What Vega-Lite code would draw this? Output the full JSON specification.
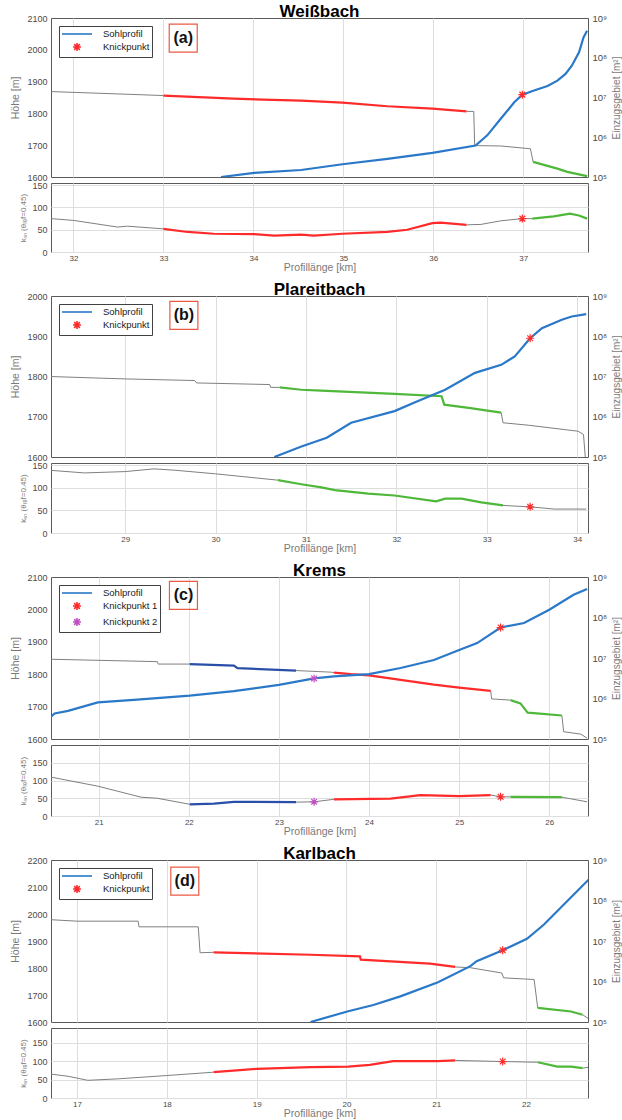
{
"$schema": "https://vega.github.io/schema/vega-lite/v6.json",
"padding": {"left": 10, "top": 2, "right": 0, "bottom": 0},
"spacing": 7,
"resolve": {"scale": {"color": "independent", "shape": "independent"}, "legend": {"color": "independent", "shape": "independent"}},
"config": {
 "font": "Liberation Sans",
 "view": {"stroke": "#5a5a5a", "strokeWidth": 1},
 "axis": {"labelFontSize": 9, "labelColor": "#4a4a4a", "titleFontWeight": "normal", "titleColor": "#7a7a7a", "titleFontSize": 10.5, "gridColor": "#dedede", "gridOpacity": 1, "domain": false, "ticks": false, "labelPadding": 4, "labelFont": "Liberation Sans", "titleFont": "Liberation Sans"},
 "title": {"fontSize": 17, "fontWeight": "bold", "color": "#000000", "font": "Liberation Sans", "offset": -8},
 "legend": {"orient": "top-left", "offset": 8, "strokeColor": "#404040", "fillColor": "#ffffff", "padding": 2, "symbolSize": 100, "symbolStrokeWidth": 1.6, "symbolFillColor": "transparent", "labelFontSize": 9.5, "labelColor": "#1a1a1a", "labelOffset": 30, "rowPadding": 0, "labelFont": "Liberation Sans"}
},
"datasets": {
 "aZ": [{"x":33.64,"y":1600},{"x":34.01,"y":1613},{"x":34.53,"y":1622},{"x":34.99,"y":1640},{"x":35.49,"y":1657},{"x":35.99,"y":1676},{"x":36.47,"y":1699},{"x":36.6,"y":1731},{"x":36.75,"y":1783},{"x":36.9,"y":1835},{"x":36.99,"y":1859},{"x":37.12,"y":1872},{"x":37.27,"y":1886},{"x":37.38,"y":1903},{"x":37.47,"y":1924},{"x":37.54,"y":1950},{"x":37.62,"y":1992},{"x":37.67,"y":2039},{"x":37.71,"y":2060}],
 "aA": [{"x":31.75,"y":14100000,"g":"1","c":"g"},{"x":33.0,"y":11200000,"g":"1","c":"g"},
        {"x":33.0,"y":11200000,"g":"2","c":"r"},{"x":33.78,"y":9330000,"g":"2","c":"r"},{"x":34.53,"y":8320000,"g":"2","c":"r"},{"x":34.99,"y":7410000,"g":"2","c":"r"},{"x":35.49,"y":6030000,"g":"2","c":"r"},{"x":35.99,"y":5250000,"g":"2","c":"r"},{"x":36.37,"y":4470000,"g":"2","c":"r"},
        {"x":36.37,"y":4470000,"g":"3","c":"g"},{"x":36.45,"y":4470000,"g":"3","c":"g"},{"x":36.46,"y":617000,"g":"3","c":"g"},{"x":36.75,"y":603000,"g":"3","c":"g"},{"x":37.08,"y":513000,"g":"3","c":"g"},{"x":37.11,"y":240000,"g":"3","c":"g"},
        {"x":37.11,"y":240000,"g":"4","c":"gr"},{"x":37.38,"y":162000,"g":"4","c":"gr"},{"x":37.49,"y":135000,"g":"4","c":"gr"},{"x":37.67,"y":110000,"g":"4","c":"gr"},{"x":37.71,"y":105000,"g":"4","c":"gr"}],
 "aK": [{"x":31.75,"y":75,"g":"1","c":"g"},{"x":32.0,"y":71,"g":"1","c":"g"},{"x":32.49,"y":56,"g":"1","c":"g"},{"x":32.6,"y":58,"g":"1","c":"g"},{"x":33.0,"y":52,"g":"1","c":"g"},
        {"x":33.0,"y":52,"g":"2","c":"r"},{"x":33.27,"y":45,"g":"2","c":"r"},{"x":33.56,"y":41,"g":"2","c":"r"},{"x":34.01,"y":40,"g":"2","c":"r"},{"x":34.23,"y":37,"g":"2","c":"r"},{"x":34.53,"y":39,"g":"2","c":"r"},{"x":34.67,"y":37,"g":"2","c":"r"},{"x":34.99,"y":41,"g":"2","c":"r"},{"x":35.49,"y":45,"g":"2","c":"r"},{"x":35.71,"y":50,"g":"2","c":"r"},{"x":35.99,"y":65,"g":"2","c":"r"},{"x":36.08,"y":66,"g":"2","c":"r"},{"x":36.37,"y":61,"g":"2","c":"r"},
        {"x":36.37,"y":61,"g":"3","c":"g"},{"x":36.53,"y":62,"g":"3","c":"g"},{"x":36.75,"y":70,"g":"3","c":"g"},{"x":36.99,"y":75,"g":"3","c":"g"},{"x":37.1,"y":75,"g":"3","c":"g"},
        {"x":37.1,"y":75,"g":"4","c":"gr"},{"x":37.34,"y":80,"g":"4","c":"gr"},{"x":37.52,"y":86,"g":"4","c":"gr"},{"x":37.62,"y":82,"g":"4","c":"gr"},{"x":37.71,"y":75,"g":"4","c":"gr"}],
 "aP": [{"x":36.99,"y":1859,"c":"r","leg":"Knickpunkt"}],
 "aQ": [{"x":36.99,"y":75,"c":"r"}],
 "bZ": [{"x":30.65,"y":1600},{"x":30.95,"y":1626},{"x":31.23,"y":1648},{"x":31.5,"y":1685},{"x":31.98,"y":1714},{"x":32.24,"y":1739},{"x":32.54,"y":1767},{"x":32.87,"y":1809},{"x":33.16,"y":1829},{"x":33.31,"y":1850},{"x":33.48,"y":1895},{"x":33.61,"y":1920},{"x":33.83,"y":1941},{"x":33.94,"y":1949},{"x":34.1,"y":1955}],
 "bA": [{"x":28.16,"y":10000000,"g":"1","c":"g"},{"x":29.0,"y":8710000,"g":"1","c":"g"},{"x":29.77,"y":7940000,"g":"1","c":"g"},{"x":29.79,"y":6920000,"g":"1","c":"g"},{"x":30.6,"y":6310000,"g":"1","c":"g"},{"x":30.61,"y":5370000,"g":"1","c":"g"},{"x":30.71,"y":5370000,"g":"1","c":"g"},
        {"x":30.71,"y":5370000,"g":"2","c":"gr"},{"x":30.95,"y":4680000,"g":"2","c":"gr"},{"x":31.17,"y":4470000,"g":"2","c":"gr"},{"x":31.98,"y":3720000,"g":"2","c":"gr"},{"x":32.5,"y":3240000,"g":"2","c":"gr"},{"x":32.53,"y":2000000,"g":"2","c":"gr"},{"x":32.8,"y":1660000,"g":"2","c":"gr"},{"x":33.16,"y":1260000,"g":"2","c":"gr"},
        {"x":33.16,"y":1260000,"g":"3","c":"g"},{"x":33.18,"y":708000,"g":"3","c":"g"},{"x":33.46,"y":617000,"g":"3","c":"g"},{"x":34.01,"y":437000,"g":"3","c":"g"},{"x":34.07,"y":363000,"g":"3","c":"g"},{"x":34.09,"y":100000,"g":"3","c":"g"}],
 "bK": [{"x":28.16,"y":139,"g":"1","c":"g"},{"x":28.55,"y":133,"g":"1","c":"g"},{"x":29.0,"y":136,"g":"1","c":"g"},{"x":29.32,"y":142,"g":"1","c":"g"},{"x":29.55,"y":139,"g":"1","c":"g"},{"x":30.0,"y":131,"g":"1","c":"g"},{"x":30.69,"y":117,"g":"1","c":"g"},
        {"x":30.69,"y":117,"g":"2","c":"gr"},{"x":30.95,"y":108,"g":"2","c":"gr"},{"x":31.17,"y":101,"g":"2","c":"gr"},{"x":31.32,"y":95,"g":"2","c":"gr"},{"x":31.69,"y":87,"g":"2","c":"gr"},{"x":31.98,"y":83,"g":"2","c":"gr"},{"x":32.44,"y":70,"g":"2","c":"gr"},{"x":32.54,"y":76,"g":"2","c":"gr"},{"x":32.72,"y":76,"g":"2","c":"gr"},{"x":32.94,"y":68,"g":"2","c":"gr"},{"x":33.18,"y":61,"g":"2","c":"gr"},
        {"x":33.18,"y":61,"g":"3","c":"g"},{"x":33.47,"y":58,"g":"3","c":"g"},{"x":33.75,"y":53,"g":"3","c":"g"},{"x":34.1,"y":53,"g":"3","c":"g"}],
 "bP": [{"x":33.48,"y":1895,"c":"r","leg":"Knickpunkt"}],
 "bQ": [{"x":33.48,"y":58,"c":"r"}],
 "cZ": [{"x":20.46,"y":1666},{"x":20.51,"y":1679},{"x":20.66,"y":1687},{"x":20.99,"y":1713},{"x":21.39,"y":1721},{"x":22.01,"y":1734},{"x":22.5,"y":1748},{"x":23.0,"y":1767},{"x":23.39,"y":1787},{"x":23.61,"y":1793},{"x":24.0,"y":1800},{"x":24.35,"y":1819},{"x":24.72,"y":1844},{"x":25.0,"y":1875},{"x":25.2,"y":1896},{"x":25.46,"y":1944},{"x":25.72,"y":1958},{"x":26.0,"y":1999},{"x":26.27,"y":2045},{"x":26.42,"y":2063}],
 "cA": [{"x":20.46,"y":9330000,"g":"1","c":"g"},{"x":21.65,"y":8130000,"g":"1","c":"g"},{"x":21.66,"y":7080000,"g":"1","c":"g"},{"x":22.01,"y":7080000,"g":"1","c":"g"},
        {"x":22.01,"y":7080000,"g":"2","c":"nb"},{"x":22.5,"y":6460000,"g":"2","c":"nb"},{"x":22.54,"y":5620000,"g":"2","c":"nb"},{"x":23.19,"y":4900000,"g":"2","c":"nb"},
        {"x":23.19,"y":4900000,"g":"3","c":"g"},{"x":23.58,"y":4470000,"g":"3","c":"g"},{"x":23.61,"y":4370000,"g":"3","c":"g"},
        {"x":23.61,"y":4370000,"g":"4","c":"r"},{"x":23.8,"y":3980000,"g":"4","c":"r"},{"x":24.0,"y":3720000,"g":"4","c":"r"},{"x":24.35,"y":2880000,"g":"4","c":"r"},{"x":24.72,"y":2190000,"g":"4","c":"r"},{"x":25.0,"y":1860000,"g":"4","c":"r"},{"x":25.35,"y":1550000,"g":"4","c":"r"},
        {"x":25.35,"y":1550000,"g":"5","c":"g"},{"x":25.36,"y":977000,"g":"5","c":"g"},{"x":25.57,"y":912000,"g":"5","c":"g"},
        {"x":25.57,"y":912000,"g":"6","c":"gr"},{"x":25.68,"y":759000,"g":"6","c":"gr"},{"x":25.76,"y":447000,"g":"6","c":"gr"},{"x":25.83,"y":437000,"g":"6","c":"gr"},{"x":26.14,"y":380000,"g":"6","c":"gr"},
        {"x":26.14,"y":380000,"g":"7","c":"g"},{"x":26.16,"y":151000,"g":"7","c":"g"},{"x":26.35,"y":132000,"g":"7","c":"g"},{"x":26.42,"y":105000,"g":"7","c":"g"}],
 "cK": [{"x":20.46,"y":110,"g":"1","c":"g"},{"x":20.99,"y":84,"g":"1","c":"g"},{"x":21.47,"y":53,"g":"1","c":"g"},{"x":21.65,"y":50,"g":"1","c":"g"},{"x":22.01,"y":33,"g":"1","c":"g"},
        {"x":22.01,"y":33,"g":"2","c":"nb"},{"x":22.28,"y":35,"g":"2","c":"nb"},{"x":22.5,"y":40,"g":"2","c":"nb"},{"x":23.19,"y":39,"g":"2","c":"nb"},
        {"x":23.19,"y":39,"g":"3","c":"g"},{"x":23.39,"y":40,"g":"3","c":"g"},{"x":23.61,"y":47,"g":"3","c":"g"},
        {"x":23.61,"y":47,"g":"4","c":"r"},{"x":24.24,"y":49,"g":"4","c":"r"},{"x":24.57,"y":59,"g":"4","c":"r"},{"x":25.0,"y":56,"g":"4","c":"r"},{"x":25.35,"y":59,"g":"4","c":"r"},
        {"x":25.35,"y":59,"g":"5","c":"g"},{"x":25.46,"y":54,"g":"5","c":"g"},{"x":25.57,"y":54,"g":"5","c":"g"},
        {"x":25.57,"y":54,"g":"6","c":"gr"},{"x":26.14,"y":53,"g":"6","c":"gr"},
        {"x":26.14,"y":53,"g":"7","c":"g"},{"x":26.42,"y":40,"g":"7","c":"g"}],
 "cP": [{"x":23.39,"y":1787,"c":"m","leg":"Knickpunkt 2"},{"x":25.46,"y":1944,"c":"r","leg":"Knickpunkt 1"}],
 "cQ": [{"x":23.39,"y":40,"c":"m"},{"x":25.46,"y":54,"c":"r"}],
 "dZ": [{"x":19.6,"y":1600},{"x":20.02,"y":1640},{"x":20.3,"y":1663},{"x":20.6,"y":1695},{"x":21.02,"y":1747},{"x":21.38,"y":1807},{"x":21.45,"y":1825},{"x":21.74,"y":1866},{"x":22.01,"y":1908},{"x":22.2,"y":1961},{"x":22.46,"y":2048},{"x":22.72,"y":2135}],
 "dA": [{"x":16.67,"y":33900000,"g":"1","c":"g"},{"x":17.0,"y":30900000,"g":"1","c":"g"},{"x":17.68,"y":30900000,"g":"1","c":"g"},{"x":17.69,"y":22400000,"g":"1","c":"g"},{"x":18.35,"y":22400000,"g":"1","c":"g"},{"x":18.37,"y":5130000,"g":"1","c":"g"},{"x":18.52,"y":5250000,"g":"1","c":"g"},
        {"x":18.52,"y":5250000,"g":"2","c":"r"},{"x":19.6,"y":4570000,"g":"2","c":"r"},{"x":20.15,"y":4170000,"g":"2","c":"r"},{"x":20.16,"y":3470000,"g":"2","c":"r"},{"x":20.93,"y":2750000,"g":"2","c":"r"},{"x":21.21,"y":2290000,"g":"2","c":"r"},
        {"x":21.21,"y":2290000,"g":"3","c":"g"},{"x":21.38,"y":2190000,"g":"3","c":"g"},{"x":21.73,"y":1620000,"g":"3","c":"g"},{"x":21.75,"y":1230000,"g":"3","c":"g"},{"x":22.09,"y":1120000,"g":"3","c":"g"},{"x":22.13,"y":224000,"g":"3","c":"g"},
        {"x":22.13,"y":224000,"g":"4","c":"gr"},{"x":22.5,"y":182000,"g":"4","c":"gr"},{"x":22.63,"y":151000,"g":"4","c":"gr"},
        {"x":22.63,"y":151000,"g":"5","c":"g"},{"x":22.71,"y":115000,"g":"5","c":"g"}],
 "dK": [{"x":16.67,"y":66,"g":"1","c":"g"},{"x":16.9,"y":59,"g":"1","c":"g"},{"x":17.12,"y":48,"g":"1","c":"g"},{"x":17.46,"y":52,"g":"1","c":"g"},{"x":18.0,"y":61,"g":"1","c":"g"},{"x":18.52,"y":70,"g":"1","c":"g"},
        {"x":18.52,"y":70,"g":"2","c":"r"},{"x":19.0,"y":79,"g":"2","c":"r"},{"x":19.6,"y":84,"g":"2","c":"r"},{"x":20.02,"y":85,"g":"2","c":"r"},{"x":20.26,"y":90,"g":"2","c":"r"},{"x":20.52,"y":100,"g":"2","c":"r"},{"x":21.02,"y":100,"g":"2","c":"r"},{"x":21.21,"y":102,"g":"2","c":"r"},
        {"x":21.21,"y":102,"g":"3","c":"g"},{"x":21.74,"y":99,"g":"3","c":"g"},{"x":22.13,"y":97,"g":"3","c":"g"},
        {"x":22.13,"y":97,"g":"4","c":"gr"},{"x":22.35,"y":85,"g":"4","c":"gr"},{"x":22.5,"y":85,"g":"4","c":"gr"},{"x":22.63,"y":81,"g":"4","c":"gr"},
        {"x":22.63,"y":81,"g":"5","c":"g"},{"x":22.71,"y":84,"g":"5","c":"g"}],
 "dP": [{"x":21.74,"y":1866,"c":"r","leg":"Knickpunkt"}],
 "dQ": [{"x":21.74,"y":99,"c":"r"}]
},
"vconcat": [
 {"spacing": -4, "resolve": {"scale": {"color": "independent", "shape": "independent"}, "legend": {"color": "independent", "shape": "independent"}},
  "vconcat": [
  {"title": {"text": "Weißbach"}, "width": 537, "height": 159,
   "encoding": {"x": {"field": "x", "type": "quantitative", "scale": {"domain": [31.75, 37.72], "nice": false, "zero": false}, "axis": {"values": [32,33,34,35,36,37], "labels": false, "title": null}}},
   "layer": [
    {"data": {"name": "aA"},
     "encoding": {"y": {"field": "y", "type": "quantitative", "scale": {"type": "log", "domain": [100000, 1000000000], "nice": false}, "axis": {"orient": "right", "values": [100000,1000000,10000000,100000000,1000000000], "labelExpr": "datum.value < 300000 ? '10⁵' : datum.value < 3000000 ? '10⁶' : datum.value < 30000000 ? '10⁷' : datum.value < 300000000 ? '10⁸' : '10⁹'", "title": "Einzugsgebiet [m²]", "grid": false, "titleAngle": 270, "titleBaseline": "top", "titlePadding": 5, "titleFontSize": 10, "labelFontSize": 9.5}},
      "detail": {"field": "g"},
      "stroke": {"field": "c", "type": "nominal", "scale": {"domain": ["g","r","gr","nb","m"], "range": ["#7f7f7f","#ff2b2b","#4fb83a","#2a4fa8","#c24fc4"]}, "legend": null}},
     "layer": [
      {"transform": [{"filter": "datum.c == 'g'"}], "mark": {"type": "line", "strokeWidth": 1, "clip": true}},
      {"transform": [{"filter": "datum.c != 'g'"}], "mark": {"type": "line", "strokeWidth": 2.2, "clip": true}}
     ]},
    {"encoding": {"y": {"field": "y", "type": "quantitative", "scale": {"domain": [1600, 2100], "nice": false, "zero": false}, "axis": {"values": [1600,1700,1800,1900,2000,2100], "format": "d", "title": "Höhe [m]", "titlePadding": 6}}},
     "layer": [
      {"data": {"name": "aZ"}, "mark": {"type": "line", "color": "#2a78c8", "strokeWidth": 2.2, "clip": true}},
      {"data": {"name": "aP"}, "mark": {"type": "point", "shape": "M-0.8,0H0.8M0,-0.8V0.8M-0.57,-0.57L0.57,0.57M-0.57,0.57L0.57,-0.57", "size": 100, "filled": false, "strokeWidth": 1.2, "opacity": 1}, "encoding": {"stroke": {"field": "c", "type": "nominal", "scale": {"domain": ["g","r","gr","nb","m"], "range": ["#7f7f7f","#ff2b2b","#4fb83a","#2a4fa8","#c24fc4"]}, "legend": null}}},
      {"data": {"name": "aP"}, "transform": [{"filter": "false"}], "mark": {"type": "point", "filled": false, "opacity": 1},
       "encoding": {"color": {"field": "leg", "type": "nominal", "scale": {"domain": ["Sohlprofil", "Knickpunkt"], "range": ["#2a78c8", "#ff2b2b"]}, "legend": {"title": null}},
                    "shape": {"field": "leg", "type": "nominal", "scale": {"domain": ["Sohlprofil", "Knickpunkt"], "range": ["M-1,0H5", "M1.2,0H2.8M2,-0.8V0.8M1.43,-0.57L2.57,0.57M1.43,0.57L2.57,-0.57"]}, "legend": {"title": null}}}},
      {"data": {"values": [{"x": 33.22, "y": 2037, "t": "(a)"}]}, "mark": {"type": "point", "shape": "square", "size": 784, "filled": false, "stroke": "#ea5a45", "strokeWidth": 1.2, "opacity": 1}},
      {"data": {"values": [{"x": 33.22, "y": 2037, "t": "(a)"}]}, "mark": {"type": "text", "fontSize": 16, "fontWeight": "bold", "color": "#111111"}, "encoding": {"text": {"field": "t"}}}
     ]}
   ],
   "resolve": {"scale": {"y": "independent"}}},
  {"width": 537, "height": 69,
   "encoding": {"x": {"field": "x", "type": "quantitative", "scale": {"domain": [31.75, 37.72], "nice": false, "zero": false}, "axis": {"values": [32,33,34,35,36,37], "format": "d", "title": "Profillänge [km]", "labelFontSize": 8, "labelPadding": 2, "titlePadding": 0}},
                "y": {"field": "y", "type": "quantitative", "scale": {"domain": [0, 155], "nice": false}, "axis": {"values": [0,50,100,150], "title": "kₛₙ (θᵣₑf=0.45)", "titleFontSize": 8, "titlePadding": 4}}},
   "layer": [
    {"data": {"name": "aK"}, "transform": [{"filter": "datum.c == 'g'"}], "mark": {"type": "line", "strokeWidth": 1, "clip": true}, "encoding": {"detail": {"field": "g"}, "stroke": {"field": "c", "type": "nominal", "scale": {"domain": ["g","r","gr","nb","m"], "range": ["#7f7f7f","#ff2b2b","#4fb83a","#2a4fa8","#c24fc4"]}, "legend": null}}},
    {"data": {"name": "aK"}, "transform": [{"filter": "datum.c != 'g'"}], "mark": {"type": "line", "strokeWidth": 2.2, "clip": true}, "encoding": {"detail": {"field": "g"}, "stroke": {"field": "c", "type": "nominal", "scale": {"domain": ["g","r","gr","nb","m"], "range": ["#7f7f7f","#ff2b2b","#4fb83a","#2a4fa8","#c24fc4"]}, "legend": null}}},
    {"data": {"name": "aQ"}, "mark": {"type": "point", "shape": "M-0.8,0H0.8M0,-0.8V0.8M-0.57,-0.57L0.57,0.57M-0.57,0.57L0.57,-0.57", "size": 100, "filled": false, "strokeWidth": 1.2, "opacity": 1}, "encoding": {"stroke": {"field": "c", "type": "nominal", "scale": {"domain": ["g","r","gr","nb","m"], "range": ["#7f7f7f","#ff2b2b","#4fb83a","#2a4fa8","#c24fc4"]}, "legend": null}}}
   ]}
 ]},
 {"spacing": -4, "resolve": {"scale": {"color": "independent", "shape": "independent"}, "legend": {"color": "independent", "shape": "independent"}},
  "vconcat": [
  {"title": {"text": "Plareitbach"}, "width": 537, "height": 161,
   "encoding": {"x": {"field": "x", "type": "quantitative", "scale": {"domain": [28.18, 34.12], "nice": false, "zero": false}, "axis": {"values": [29,30,31,32,33,34], "labels": false, "title": null}}},
   "layer": [
    {"data": {"name": "bA"},
     "encoding": {"y": {"field": "y", "type": "quantitative", "scale": {"type": "log", "domain": [100000, 1000000000], "nice": false}, "axis": {"orient": "right", "values": [100000,1000000,10000000,100000000,1000000000], "labelExpr": "datum.value < 300000 ? '10⁵' : datum.value < 3000000 ? '10⁶' : datum.value < 30000000 ? '10⁷' : datum.value < 300000000 ? '10⁸' : '10⁹'", "title": "Einzugsgebiet [m²]", "grid": false, "titleAngle": 270, "titleBaseline": "top", "titlePadding": 5, "titleFontSize": 10, "labelFontSize": 9.5}},
      "detail": {"field": "g"},
      "stroke": {"field": "c", "type": "nominal", "scale": {"domain": ["g","r","gr","nb","m"], "range": ["#7f7f7f","#ff2b2b","#4fb83a","#2a4fa8","#c24fc4"]}, "legend": null}},
     "layer": [
      {"transform": [{"filter": "datum.c == 'g'"}], "mark": {"type": "line", "strokeWidth": 1, "clip": true}},
      {"transform": [{"filter": "datum.c != 'g'"}], "mark": {"type": "line", "strokeWidth": 2.2, "clip": true}}
     ]},
    {"encoding": {"y": {"field": "y", "type": "quantitative", "scale": {"domain": [1600, 2000], "nice": false, "zero": false}, "axis": {"values": [1600,1700,1800,1900,2000], "format": "d", "title": "Höhe [m]", "titlePadding": 6}}},
     "layer": [
      {"data": {"name": "bZ"}, "mark": {"type": "line", "color": "#2a78c8", "strokeWidth": 2.2, "clip": true}},
      {"data": {"name": "bP"}, "mark": {"type": "point", "shape": "M-0.8,0H0.8M0,-0.8V0.8M-0.57,-0.57L0.57,0.57M-0.57,0.57L0.57,-0.57", "size": 100, "filled": false, "strokeWidth": 1.2, "opacity": 1}, "encoding": {"stroke": {"field": "c", "type": "nominal", "scale": {"domain": ["g","r","gr","nb","m"], "range": ["#7f7f7f","#ff2b2b","#4fb83a","#2a4fa8","#c24fc4"]}, "legend": null}}},
      {"data": {"name": "bP"}, "transform": [{"filter": "false"}], "mark": {"type": "point", "filled": false, "opacity": 1},
       "encoding": {"color": {"field": "leg", "type": "nominal", "scale": {"domain": ["Sohlprofil", "Knickpunkt"], "range": ["#2a78c8", "#ff2b2b"]}, "legend": {"title": null}},
                    "shape": {"field": "leg", "type": "nominal", "scale": {"domain": ["Sohlprofil", "Knickpunkt"], "range": ["M-1,0H5", "M1.2,0H2.8M2,-0.8V0.8M1.43,-0.57L2.57,0.57M1.43,0.57L2.57,-0.57"]}, "legend": {"title": null}}}},
      {"data": {"values": [{"x": 29.65, "y": 1952, "t": "(b)"}]}, "mark": {"type": "point", "shape": "square", "size": 784, "filled": false, "stroke": "#ea5a45", "strokeWidth": 1.2, "opacity": 1}},
      {"data": {"values": [{"x": 29.65, "y": 1952, "t": "(b)"}]}, "mark": {"type": "text", "fontSize": 16, "fontWeight": "bold", "color": "#111111"}, "encoding": {"text": {"field": "t"}}}
     ]}
   ],
   "resolve": {"scale": {"y": "independent"}}},
  {"width": 537, "height": 70,
   "encoding": {"x": {"field": "x", "type": "quantitative", "scale": {"domain": [28.18, 34.12], "nice": false, "zero": false}, "axis": {"values": [29,30,31,32,33,34], "format": "d", "title": "Profillänge [km]", "labelFontSize": 8, "labelPadding": 2, "titlePadding": 0}},
                "y": {"field": "y", "type": "quantitative", "scale": {"domain": [0, 155], "nice": false}, "axis": {"values": [0,50,100,150], "title": "kₛₙ (θᵣₑf=0.45)", "titleFontSize": 8, "titlePadding": 4}}},
   "layer": [
    {"data": {"name": "bK"}, "transform": [{"filter": "datum.c == 'g'"}], "mark": {"type": "line", "strokeWidth": 1, "clip": true}, "encoding": {"detail": {"field": "g"}, "stroke": {"field": "c", "type": "nominal", "scale": {"domain": ["g","r","gr","nb","m"], "range": ["#7f7f7f","#ff2b2b","#4fb83a","#2a4fa8","#c24fc4"]}, "legend": null}}},
    {"data": {"name": "bK"}, "transform": [{"filter": "datum.c != 'g'"}], "mark": {"type": "line", "strokeWidth": 2.2, "clip": true}, "encoding": {"detail": {"field": "g"}, "stroke": {"field": "c", "type": "nominal", "scale": {"domain": ["g","r","gr","nb","m"], "range": ["#7f7f7f","#ff2b2b","#4fb83a","#2a4fa8","#c24fc4"]}, "legend": null}}},
    {"data": {"name": "bQ"}, "mark": {"type": "point", "shape": "M-0.8,0H0.8M0,-0.8V0.8M-0.57,-0.57L0.57,0.57M-0.57,0.57L0.57,-0.57", "size": 100, "filled": false, "strokeWidth": 1.2, "opacity": 1}, "encoding": {"stroke": {"field": "c", "type": "nominal", "scale": {"domain": ["g","r","gr","nb","m"], "range": ["#7f7f7f","#ff2b2b","#4fb83a","#2a4fa8","#c24fc4"]}, "legend": null}}}
   ]}
 ]},
 {"spacing": -4, "resolve": {"scale": {"color": "independent", "shape": "independent"}, "legend": {"color": "independent", "shape": "independent"}},
  "vconcat": [
  {"title": {"text": "Krems"}, "width": 537, "height": 162,
   "encoding": {"x": {"field": "x", "type": "quantitative", "scale": {"domain": [20.47, 26.43], "nice": false, "zero": false}, "axis": {"values": [21,22,23,24,25,26], "labels": false, "title": null}}},
   "layer": [
    {"data": {"name": "cA"},
     "encoding": {"y": {"field": "y", "type": "quantitative", "scale": {"type": "log", "domain": [100000, 1000000000], "nice": false}, "axis": {"orient": "right", "values": [100000,1000000,10000000,100000000,1000000000], "labelExpr": "datum.value < 300000 ? '10⁵' : datum.value < 3000000 ? '10⁶' : datum.value < 30000000 ? '10⁷' : datum.value < 300000000 ? '10⁸' : '10⁹'", "title": "Einzugsgebiet [m²]", "grid": false, "titleAngle": 270, "titleBaseline": "top", "titlePadding": 5, "titleFontSize": 10, "labelFontSize": 9.5}},
      "detail": {"field": "g"},
      "stroke": {"field": "c", "type": "nominal", "scale": {"domain": ["g","r","gr","nb","m"], "range": ["#7f7f7f","#ff2b2b","#4fb83a","#2a4fa8","#c24fc4"]}, "legend": null}},
     "layer": [
      {"transform": [{"filter": "datum.c == 'g'"}], "mark": {"type": "line", "strokeWidth": 1, "clip": true}},
      {"transform": [{"filter": "datum.c != 'g'"}], "mark": {"type": "line", "strokeWidth": 2.2, "clip": true}}
     ]},
    {"encoding": {"y": {"field": "y", "type": "quantitative", "scale": {"domain": [1600, 2100], "nice": false, "zero": false}, "axis": {"values": [1600,1700,1800,1900,2000,2100], "format": "d", "title": "Höhe [m]", "titlePadding": 6}}},
     "layer": [
      {"data": {"name": "cZ"}, "mark": {"type": "line", "color": "#2a78c8", "strokeWidth": 2.2, "clip": true}},
      {"data": {"name": "cP"}, "mark": {"type": "point", "shape": "M-0.8,0H0.8M0,-0.8V0.8M-0.57,-0.57L0.57,0.57M-0.57,0.57L0.57,-0.57", "size": 100, "filled": false, "strokeWidth": 1.2, "opacity": 1}, "encoding": {"stroke": {"field": "c", "type": "nominal", "scale": {"domain": ["g","r","gr","nb","m"], "range": ["#7f7f7f","#ff2b2b","#4fb83a","#2a4fa8","#c24fc4"]}, "legend": null}}},
      {"data": {"name": "cP"}, "transform": [{"filter": "false"}], "mark": {"type": "point", "filled": false, "opacity": 1},
       "encoding": {"color": {"field": "leg", "type": "nominal", "scale": {"domain": ["Sohlprofil", "Knickpunkt 1", "Knickpunkt 2"], "range": ["#2a78c8", "#ff2b2b", "#c24fc4"]}, "legend": {"title": null}},
                    "shape": {"field": "leg", "type": "nominal", "scale": {"domain": ["Sohlprofil", "Knickpunkt 1", "Knickpunkt 2"], "range": ["M-1,0H5", "M1.2,0H2.8M2,-0.8V0.8M1.43,-0.57L2.57,0.57M1.43,0.57L2.57,-0.57", "M1.2,0H2.8M2,-0.8V0.8M1.43,-0.57L2.57,0.57M1.43,0.57L2.57,-0.57"]}, "legend": {"title": null}}}},
      {"data": {"values": [{"x": 21.94, "y": 2043, "t": "(c)"}]}, "mark": {"type": "point", "shape": "square", "size": 784, "filled": false, "stroke": "#ea5a45", "strokeWidth": 1.2, "opacity": 1}},
      {"data": {"values": [{"x": 21.94, "y": 2043, "t": "(c)"}]}, "mark": {"type": "text", "fontSize": 16, "fontWeight": "bold", "color": "#111111"}, "encoding": {"text": {"field": "t"}}}
     ]}
   ],
   "resolve": {"scale": {"y": "independent"}}},
  {"width": 537, "height": 71,
   "encoding": {"x": {"field": "x", "type": "quantitative", "scale": {"domain": [20.47, 26.43], "nice": false, "zero": false}, "axis": {"values": [21,22,23,24,25,26], "format": "d", "title": "Profillänge [km]", "labelFontSize": 8, "labelPadding": 2, "titlePadding": 0}},
                "y": {"field": "y", "type": "quantitative", "scale": {"domain": [0, 200], "nice": false}, "axis": {"values": [0,50,100,150], "title": "kₛₙ (θᵣₑf=0.45)", "titleFontSize": 8, "titlePadding": 4}}},
   "layer": [
    {"data": {"name": "cK"}, "transform": [{"filter": "datum.c == 'g'"}], "mark": {"type": "line", "strokeWidth": 1, "clip": true}, "encoding": {"detail": {"field": "g"}, "stroke": {"field": "c", "type": "nominal", "scale": {"domain": ["g","r","gr","nb","m"], "range": ["#7f7f7f","#ff2b2b","#4fb83a","#2a4fa8","#c24fc4"]}, "legend": null}}},
    {"data": {"name": "cK"}, "transform": [{"filter": "datum.c != 'g'"}], "mark": {"type": "line", "strokeWidth": 2.2, "clip": true}, "encoding": {"detail": {"field": "g"}, "stroke": {"field": "c", "type": "nominal", "scale": {"domain": ["g","r","gr","nb","m"], "range": ["#7f7f7f","#ff2b2b","#4fb83a","#2a4fa8","#c24fc4"]}, "legend": null}}},
    {"data": {"name": "cQ"}, "mark": {"type": "point", "shape": "M-0.8,0H0.8M0,-0.8V0.8M-0.57,-0.57L0.57,0.57M-0.57,0.57L0.57,-0.57", "size": 100, "filled": false, "strokeWidth": 1.2, "opacity": 1}, "encoding": {"stroke": {"field": "c", "type": "nominal", "scale": {"domain": ["g","r","gr","nb","m"], "range": ["#7f7f7f","#ff2b2b","#4fb83a","#2a4fa8","#c24fc4"]}, "legend": null}}}
   ]}
 ]},
 {"spacing": -4, "resolve": {"scale": {"color": "independent", "shape": "independent"}, "legend": {"color": "independent", "shape": "independent"}},
  "vconcat": [
  {"title": {"text": "Karlbach"}, "width": 537, "height": 162,
   "encoding": {"x": {"field": "x", "type": "quantitative", "scale": {"domain": [16.71, 22.69], "nice": false, "zero": false}, "axis": {"values": [17,18,19,20,21,22], "labels": false, "title": null}}},
   "layer": [
    {"data": {"name": "dA"},
     "encoding": {"y": {"field": "y", "type": "quantitative", "scale": {"type": "log", "domain": [100000, 1000000000], "nice": false}, "axis": {"orient": "right", "values": [100000,1000000,10000000,100000000,1000000000], "labelExpr": "datum.value < 300000 ? '10⁵' : datum.value < 3000000 ? '10⁶' : datum.value < 30000000 ? '10⁷' : datum.value < 300000000 ? '10⁸' : '10⁹'", "title": "Einzugsgebiet [m²]", "grid": false, "titleAngle": 270, "titleBaseline": "top", "titlePadding": 5, "titleFontSize": 10, "labelFontSize": 9.5}},
      "detail": {"field": "g"},
      "stroke": {"field": "c", "type": "nominal", "scale": {"domain": ["g","r","gr","nb","m"], "range": ["#7f7f7f","#ff2b2b","#4fb83a","#2a4fa8","#c24fc4"]}, "legend": null}},
     "layer": [
      {"transform": [{"filter": "datum.c == 'g'"}], "mark": {"type": "line", "strokeWidth": 1, "clip": true}},
      {"transform": [{"filter": "datum.c != 'g'"}], "mark": {"type": "line", "strokeWidth": 2.2, "clip": true}}
     ]},
    {"encoding": {"y": {"field": "y", "type": "quantitative", "scale": {"domain": [1600, 2200], "nice": false, "zero": false}, "axis": {"values": [1600,1700,1800,1900,2000,2100,2200], "format": "d", "title": "Höhe [m]", "titlePadding": 6}}},
     "layer": [
      {"data": {"name": "dZ"}, "mark": {"type": "line", "color": "#2a78c8", "strokeWidth": 2.2, "clip": true}},
      {"data": {"name": "dP"}, "mark": {"type": "point", "shape": "M-0.8,0H0.8M0,-0.8V0.8M-0.57,-0.57L0.57,0.57M-0.57,0.57L0.57,-0.57", "size": 100, "filled": false, "strokeWidth": 1.2, "opacity": 1}, "encoding": {"stroke": {"field": "c", "type": "nominal", "scale": {"domain": ["g","r","gr","nb","m"], "range": ["#7f7f7f","#ff2b2b","#4fb83a","#2a4fa8","#c24fc4"]}, "legend": null}}},
      {"data": {"name": "dP"}, "transform": [{"filter": "false"}], "mark": {"type": "point", "filled": false, "opacity": 1},
       "encoding": {"color": {"field": "leg", "type": "nominal", "scale": {"domain": ["Sohlprofil", "Knickpunkt"], "range": ["#2a78c8", "#ff2b2b"]}, "legend": {"title": null}},
                    "shape": {"field": "leg", "type": "nominal", "scale": {"domain": ["Sohlprofil", "Knickpunkt"], "range": ["M-1,0H5", "M1.2,0H2.8M2,-0.8V0.8M1.43,-0.57L2.57,0.57M1.43,0.57L2.57,-0.57"]}, "legend": {"title": null}}}},
      {"data": {"values": [{"x": 18.2, "y": 2122, "t": "(d)"}]}, "mark": {"type": "point", "shape": "square", "size": 784, "filled": false, "stroke": "#ea5a45", "strokeWidth": 1.2, "opacity": 1}},
      {"data": {"values": [{"x": 18.2, "y": 2122, "t": "(d)"}]}, "mark": {"type": "text", "fontSize": 16, "fontWeight": "bold", "color": "#111111"}, "encoding": {"text": {"field": "t"}}}
     ]}
   ],
   "resolve": {"scale": {"y": "independent"}}},
  {"width": 537, "height": 70,
   "encoding": {"x": {"field": "x", "type": "quantitative", "scale": {"domain": [16.71, 22.69], "nice": false, "zero": false}, "axis": {"values": [17,18,19,20,21,22], "format": "d", "title": "Profillänge [km]", "labelFontSize": 8, "labelPadding": 2, "titlePadding": 0}},
                "y": {"field": "y", "type": "quantitative", "scale": {"domain": [0, 190], "nice": false}, "axis": {"values": [0,50,100,150], "title": "kₛₙ (θᵣₑf=0.45)", "titleFontSize": 8, "titlePadding": 4}}},
   "layer": [
    {"data": {"name": "dK"}, "transform": [{"filter": "datum.c == 'g'"}], "mark": {"type": "line", "strokeWidth": 1, "clip": true}, "encoding": {"detail": {"field": "g"}, "stroke": {"field": "c", "type": "nominal", "scale": {"domain": ["g","r","gr","nb","m"], "range": ["#7f7f7f","#ff2b2b","#4fb83a","#2a4fa8","#c24fc4"]}, "legend": null}}},
    {"data": {"name": "dK"}, "transform": [{"filter": "datum.c != 'g'"}], "mark": {"type": "line", "strokeWidth": 2.2, "clip": true}, "encoding": {"detail": {"field": "g"}, "stroke": {"field": "c", "type": "nominal", "scale": {"domain": ["g","r","gr","nb","m"], "range": ["#7f7f7f","#ff2b2b","#4fb83a","#2a4fa8","#c24fc4"]}, "legend": null}}},
    {"data": {"name": "dQ"}, "mark": {"type": "point", "shape": "M-0.8,0H0.8M0,-0.8V0.8M-0.57,-0.57L0.57,0.57M-0.57,0.57L0.57,-0.57", "size": 100, "filled": false, "strokeWidth": 1.2, "opacity": 1}, "encoding": {"stroke": {"field": "c", "type": "nominal", "scale": {"domain": ["g","r","gr","nb","m"], "range": ["#7f7f7f","#ff2b2b","#4fb83a","#2a4fa8","#c24fc4"]}, "legend": null}}}
   ]}
 ]}
]
}
